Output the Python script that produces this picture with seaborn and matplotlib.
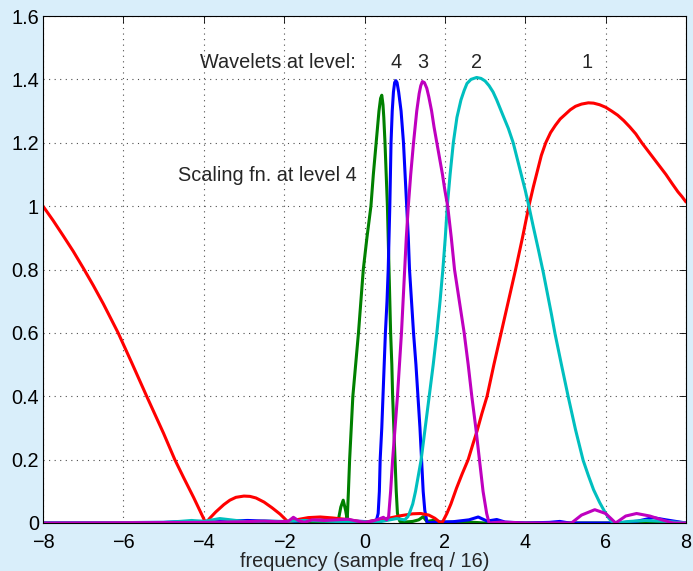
import matplotlib
matplotlib.use("Agg")
import matplotlib.pyplot as plt
import seaborn as sns
import pandas as pd

# ---- data ----
red_x = [-8.0, -7.75, -7.5, -7.25, -7.0, -6.75, -6.5, -6.13, -5.8, -5.42,
         -5.0, -4.72, -4.5, -4.25, -4.1, -3.95,
         -3.85, -3.7, -3.5, -3.35, -3.2, -3.0, -2.85, -2.7, -2.5, -2.3, -2.1, -1.9,
         -1.7, -1.4, -1.1, -0.8, -0.5, -0.2, 0.0, 0.3, 0.6, 0.9, 1.2, 1.4, 1.6, 1.75, 1.9,
         1.95, 2.05, 2.15, 2.29, 2.43, 2.58, 2.7, 2.8, 2.92, 3.05, 3.22, 3.4, 3.58, 3.76, 3.93,
         4.09, 4.2, 4.3, 4.4, 4.51, 4.63, 4.75, 4.87, 5.0, 5.12, 5.25, 5.4, 5.57, 5.7, 5.85,
         6.0, 6.15, 6.3, 6.45, 6.6, 6.75, 6.9, 7.05, 7.2, 7.35, 7.5, 7.65, 7.8, 7.9, 8.0]
red_y = [1.0, 0.955, 0.907, 0.858, 0.805, 0.75, 0.692, 0.6, 0.508, 0.4,
         0.283, 0.2, 0.143, 0.08, 0.04, 0.0,
         0.015, 0.035, 0.058, 0.072, 0.081, 0.085, 0.084, 0.079, 0.066, 0.048, 0.028, 0.003,
         0.01, 0.017, 0.019, 0.016, 0.012, 0.006, 0.003, 0.008, 0.015, 0.023, 0.029, 0.03, 0.025, 0.015, 0.0,
         0.005, 0.03, 0.06, 0.11, 0.155, 0.2, 0.25, 0.29, 0.345, 0.4, 0.5, 0.6, 0.7, 0.8, 0.9,
         1.0, 1.06, 1.11, 1.16, 1.2, 1.232, 1.255, 1.275, 1.29, 1.304, 1.315, 1.322, 1.326, 1.325, 1.32,
         1.312, 1.3, 1.287, 1.27, 1.25, 1.228, 1.2, 1.175, 1.15, 1.125, 1.1, 1.072, 1.045, 1.03, 1.013]

cyan_x = [-8.0, -5.0, -4.6, -4.3, -4.0, -3.6, -3.2, -2.9, -2.5, -2.0, -1.5, -1.0, -0.5,
          0.0, 0.3, 0.55, 0.8, 1.0, 1.08, 1.13, 1.2, 1.27, 1.34, 1.41, 1.51, 1.61, 1.71, 1.8,
          1.88, 1.95, 2.01, 2.06, 2.13, 2.21, 2.3, 2.4, 2.48, 2.55, 2.65, 2.79, 2.9, 3.0, 3.1,
          3.2, 3.29, 3.37, 3.45, 3.58, 3.7, 3.8, 3.9, 4.0, 4.09, 4.2, 4.33, 4.45, 4.55, 4.65,
          4.74, 4.9, 5.07, 5.25, 5.44, 5.57, 5.7, 5.85, 5.98, 6.08, 6.15, 6.25, 6.6, 7.0, 7.5, 8.0]
cyan_y = [0.0, 0.002, 0.005, 0.008, 0.005, 0.014, 0.008, 0.004, 0.006, 0.005, 0.008, 0.006, 0.004,
          0.004, 0.002, 0.008, 0.014, 0.01, 0.02, 0.035, 0.06, 0.1, 0.15, 0.2, 0.3, 0.4, 0.5, 0.6,
          0.7, 0.8, 0.9, 1.0, 1.1, 1.2, 1.28, 1.335, 1.365, 1.387, 1.4, 1.406, 1.403, 1.395, 1.38,
          1.36, 1.335, 1.31, 1.285, 1.245, 1.2, 1.15, 1.1, 1.05, 1.0, 0.935, 0.861, 0.79, 0.725, 0.66,
          0.598, 0.5, 0.398, 0.295, 0.198, 0.15, 0.105, 0.065, 0.035, 0.015, 0.005, 0.0, 0.005, 0.008, 0.005, 0.0]

magenta_x = [-8.0, -4.0, -3.0, -2.5, -2.2, -1.9, -1.77, -1.65, -1.5, -1.3, -1.0, -0.7, -0.4,
             -0.2, 0.0, 0.2, 0.35, 0.47, 0.55, 0.6, 0.65, 0.7, 0.76, 0.82, 0.87, 0.92, 0.96,
             1.0, 1.04, 1.09, 1.15, 1.22, 1.3, 1.36, 1.4, 1.44, 1.49, 1.55, 1.6, 1.67, 1.73,
             1.8, 1.87, 1.94, 2.0, 2.07, 2.16, 2.24, 2.36, 2.48, 2.58, 2.67, 2.77, 2.86, 2.95,
             3.04, 3.1, 3.4, 4.0, 4.5, 5.15, 5.4, 5.73, 6.0, 6.25, 6.5, 6.77, 7.1, 7.45, 7.68, 8.0]
magenta_y = [0.0, 0.002, 0.004, 0.006, 0.004, 0.005, 0.018, 0.008, 0.002, 0.01, 0.008, 0.01, 0.012,
             0.006, 0.002, 0.006, 0.012, 0.018, 0.01, 0.02, 0.1, 0.2, 0.3, 0.4, 0.5, 0.6, 0.7,
             0.8, 0.9, 1.0, 1.1, 1.2, 1.3, 1.355, 1.38, 1.393, 1.39, 1.372, 1.345, 1.3, 1.25,
             1.2, 1.15, 1.1, 1.05, 1.0, 0.9, 0.8, 0.7, 0.6, 0.5, 0.4, 0.3, 0.2, 0.1,
             0.03, 0.0, 0.003, 0.0, 0.0, 0.0, 0.025, 0.042, 0.03, 0.0, 0.022, 0.03, 0.022, 0.008, 0.0, 0.0]

blue_x = [-8.0, -5.0, -4.5, -2.9, -2.0, -1.0, -0.5, -0.2, 0.1, 0.25, 0.3, 0.34, 0.37, 0.39,
          0.43, 0.46, 0.49, 0.52, 0.56, 0.59, 0.61, 0.63, 0.645, 0.66, 0.69, 0.72, 0.75, 0.78,
          0.81, 0.85, 0.88, 0.91, 0.94, 0.97, 1.01, 1.05, 1.09, 1.12, 1.17, 1.22, 1.28, 1.33,
          1.38, 1.42, 1.46, 1.5, 1.56, 1.8, 2.2, 2.6, 2.83, 3.05, 3.29, 3.5, 4.0, 4.6, 4.86,
          5.1, 6.3, 6.8, 7.18, 7.5, 8.0]
blue_y = [0.0, 0.002, 0.004, 0.008, 0.004, 0.01, 0.008, 0.006, 0.004, 0.008, 0.01, 0.03, 0.1, 0.2,
          0.3, 0.4, 0.5, 0.6, 0.7, 0.8, 0.9, 1.0, 1.1, 1.2, 1.3, 1.36, 1.39, 1.396,
          1.39, 1.36, 1.33, 1.3, 1.25, 1.2, 1.1, 1.0, 0.9, 0.8, 0.7, 0.6, 0.5, 0.4,
          0.3, 0.2, 0.1, 0.04, 0.0, 0.003, 0.004, 0.01, 0.019, 0.006, 0.011, 0.003, 0.0, 0.002, 0.005,
          0.0, 0.0, 0.006, 0.017, 0.01, 0.0]

green_x = [-8.0, -2.0, -1.5, -1.0, -0.8, -0.65, -0.59, -0.53, -0.47, -0.43, -0.4, -0.37, -0.33,
           -0.29, -0.22, -0.15, -0.09, -0.03, 0.06, 0.16, 0.22, 0.29, 0.36, 0.4, 0.43, 0.46,
           0.48, 0.51, 0.54, 0.57, 0.59, 0.61, 0.63, 0.65, 0.68, 0.70, 0.73, 0.76, 0.79, 0.82,
           0.88, 1.0, 1.2, 1.35, 1.46, 1.55, 1.7, 1.9, 2.45, 3.0, 8.0]
green_y = [0.0, 0.0, 0.002, 0.004, 0.003, 0.01, 0.05, 0.072, 0.04, 0.01, 0.1, 0.2, 0.3,
           0.4, 0.5, 0.6, 0.7, 0.8, 0.9, 1.0, 1.1, 1.2, 1.3, 1.34, 1.35, 1.32,
           1.28, 1.2, 1.1, 1.0, 0.9, 0.8, 0.7, 0.6, 0.5, 0.4, 0.3, 0.2, 0.1, 0.03,
           0.005, 0.003, 0.005, 0.01, 0.02, 0.005, 0.008, 0.002, 0.004, 0.0, 0.0]

curve_names = ["scaling4", "wavelet4", "wavelet1", "wavelet2", "wavelet3"]
curve_colors = ["#008000", "#0000ff", "#ff0000", "#00bfbf", "#bf00bf"]
level_labels = ["4", "3", "2", "1"]
level_label_x = [0.78, 1.44, 2.79, 5.53]

frames = []
for name, xs, ys in [("scaling4", green_x, green_y), ("wavelet4", blue_x, blue_y),
                     ("wavelet1", red_x, red_y), ("wavelet2", cyan_x, cyan_y),
                     ("wavelet3", magenta_x, magenta_y)]:
    frames.append(pd.DataFrame({"freq": xs, "mag": ys, "curve": name}))
df = pd.concat(frames, ignore_index=True)

# ---- plotting ----
sns.set_style("white")
plt.rcParams["font.family"] = ["Liberation Sans", "DejaVu Sans"]
FS = 14.3

fig = plt.figure(figsize=(6.93, 5.71), dpi=100, facecolor="#d9eefa")
ax = fig.add_axes([43 / 693, 48 / 571, 643 / 693, 507 / 571])
ax.set_facecolor("white")

sns.lineplot(data=df, x="freq", y="mag", hue="curve", hue_order=curve_names,
             palette=dict(zip(curve_names, curve_colors)), sort=False, estimator=None,
             linewidth=2.2, legend=False, ax=ax)
for ln in ax.lines:
    ln.set_solid_joinstyle("round")
    ln.set_solid_capstyle("round")

ax.set_xlim(-8, 8)
ax.set_ylim(0, 1.6)
ax.set_xticks(range(-8, 9, 2))
ax.set_yticks([0, 0.2, 0.4, 0.6, 0.8, 1.0, 1.2, 1.4, 1.6])
ax.set_yticklabels(["0", "0.2", "0.4", "0.6", "0.8", "1", "1.2", "1.4", "1.6"])
ax.grid(True, color="0.3", linestyle=(0, (1, 4)), linewidth=0.8)
ax.set_axisbelow(True)
ax.tick_params(direction="in", length=5, width=0.6, top=True, right=True,
               labelsize=FS, colors="black")
ax.tick_params(axis="x", pad=7)
ax.tick_params(axis="y", pad=3)
for s in ax.spines.values():
    s.set_color("black")
    s.set_linewidth(0.8)

ax.set_xlabel("frequency (sample freq / 16)", fontsize=FS, labelpad=0)
ax.set_ylabel("")

ax.text(-4.09, 1.452, "Wavelets at level:", fontsize=FS, ha="left", va="center")
for lab, lx in zip(level_labels, level_label_x):
    ax.text(lx, 1.452, lab, fontsize=FS, ha="center", va="center")
ax.text(-4.63, 1.097, "Scaling fn. at level 4", fontsize=FS, ha="left", va="center")

fig.savefig("out.png", dpi=100, facecolor=fig.get_facecolor())
